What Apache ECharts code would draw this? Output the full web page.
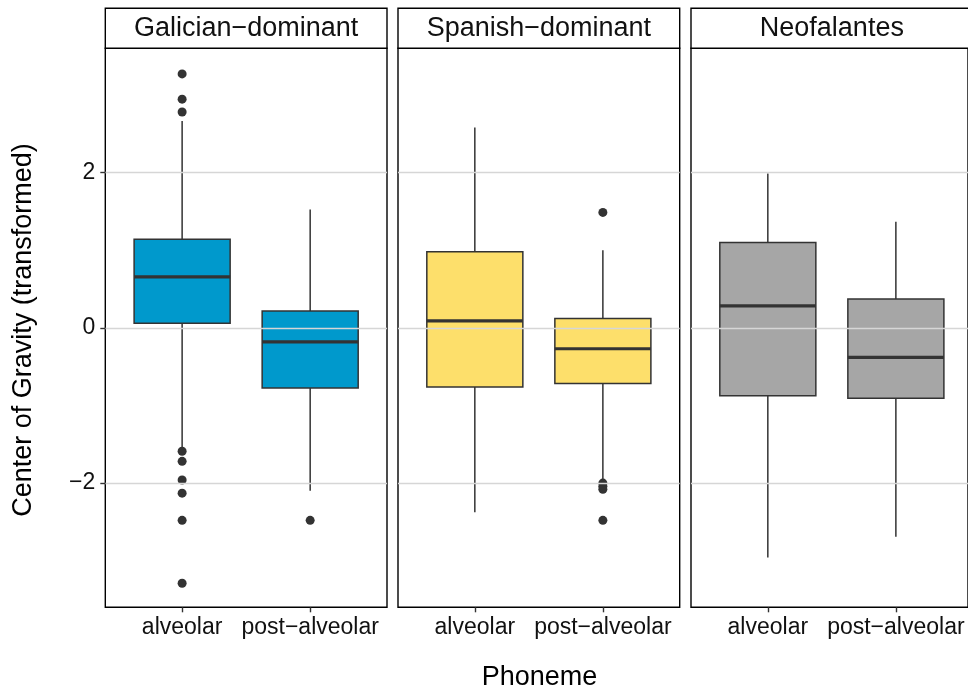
<!DOCTYPE html>
<html><head><meta charset="utf-8">
<script src="https://cdn.jsdelivr.net/npm/echarts@6/dist/echarts.min.js"></script>
<style>html,body{margin:0;padding:0;background:#fff}#c{width:968px;height:693px}</style>
</head><body><div id="c"></div>
<script>
// ---------- data ----------
const facets = ['Galician−dominant', 'Spanish−dominant', 'Neofalantes'];
const phonemes = ['alveolar', 'post−alveolar'];
const yTicks = [-2, 0, 2];
const yTickLabels = ['−2', '0', '2'];
// [lower whisker, Q1, median, Q3, upper whisker] per phoneme
const galicianStats = [[-1.55, 0.06, 0.657, 1.142, 2.665], [-2.10, -0.776, -0.18, 0.215, 1.524]];
const spanishStats = [[-2.377, -0.763, 0.088, 0.979, 2.58], [-1.97, -0.716, -0.27, 0.121, 1.0]];
const neofalantesStats = [[-2.96, -0.875, 0.283, 1.10, 1.988], [-2.69, -0.909, -0.381, 0.37, 1.365]];
// [phoneme index, value]
const galicianOutliers = [[0, 3.27], [0, 2.945], [0, 2.78], [0, -1.59], [0, -1.72], [0, -1.96], [0, -2.13], [0, -2.48], [0, -3.29], [1, -2.48]];
const spanishOutliers = [[1, 1.486], [1, -2.0], [1, -2.04], [1, -2.08], [1, -2.48]];
const neofalantesOutliers = [];

// ---------- style / layout ----------
const fillColors = ['#0099CC', '#FDDF6B', '#A6A6A6'];
const statsByFacet = [galicianStats, spanishStats, neofalantesStats];
const outliersByFacet = [galicianOutliers, spanishOutliers, neofalantesOutliers];
const FONT = "'Liberation Sans', Arial, Helvetica, sans-serif";
const panelLefts = [105.3, 398, 691];
const panelW = 281.7, panelTop = 48.3, panelH = 559;
const unit = panelW / 2.2;
const yMin = -3.6, yMax = 3.6;

function renderBox(fill) {
  return function (params, api) {
    const x = api.value(0);
    const lo = api.coord([x, api.value(1)]);
    const q1 = api.coord([x, api.value(2)]);
    const med = api.coord([x, api.value(3)]);
    const q3 = api.coord([x, api.value(4)]);
    const hi = api.coord([x, api.value(5)]);
    const bw = api.size([1, 0])[0] * 0.75;
    const cx = lo[0];
    const st = { stroke: '#333333', lineWidth: 1.5 };
    return {
      type: 'group', children: [
        { type: 'line', shape: { x1: cx, y1: q3[1], x2: cx, y2: hi[1] }, style: st },
        { type: 'line', shape: { x1: cx, y1: q1[1], x2: cx, y2: lo[1] }, style: st },
        { type: 'rect', shape: { x: cx - bw / 2, y: q3[1], width: bw, height: q1[1] - q3[1] }, style: { fill: fill, stroke: '#333333', lineWidth: 1.5 } },
        { type: 'line', shape: { x1: cx - bw / 2, y1: med[1], x2: cx + bw / 2, y2: med[1] }, style: { stroke: '#333333', lineWidth: 3.2 } }
      ]
    };
  };
}

const grid = [], xAxis = [], yAxis = [], series = [], graphic = [];
facets.forEach((name, i) => {
  const L = panelLefts[i];
  grid.push({ left: L, top: panelTop, width: panelW, height: panelH, show: true, borderColor: '#000', borderWidth: 1.4, backgroundColor: 'rgba(0,0,0,0)' });
  grid.push({ left: L + 0.1 * unit, top: panelTop, width: 2 * unit, height: panelH, show: false });
  xAxis.push({ gridIndex: 2 * i, type: 'value', show: false, min: 0, max: 1 });
  xAxis.push({
    gridIndex: 2 * i + 1, type: 'category', data: phonemes, position: 'bottom', z: 20,
    axisLine: { show: false, onZero: false },
    axisTick: { show: true, inside: false, alignWithLabel: true, length: 5, lineStyle: { color: '#333333', width: 1.4 } },
    axisLabel: { interval: 0, fontSize: 23, color: '#111', fontFamily: FONT, margin: 9 },
    splitLine: { show: false }
  });
  yAxis.push({
    gridIndex: 2 * i, type: 'value', min: yMin, max: yMax, minInterval: 2, maxInterval: 2, position: 'left', z: 20,
    axisLine: { show: false, onZero: false },
    axisTick: { show: i === 0, inside: false, length: 5, customValues: yTicks, lineStyle: { color: '#333333', width: 1.4 } },
    axisLabel: {
      show: i === 0, customValues: yTicks,
      fontSize: 23, color: '#111', fontFamily: FONT, margin: 10,
      formatter: v => { const k = yTicks.indexOf(Math.round(v * 1000) / 1000); return k >= 0 ? yTickLabels[k] : ''; }
    },
    splitLine: { show: true, lineStyle: { color: '#d6d6d6', width: 1.4 } }
  });
  yAxis.push({ gridIndex: 2 * i + 1, type: 'value', min: yMin, max: yMax, show: false, splitLine: { show: false } });

  series.push({
    type: 'custom', name: name, xAxisIndex: 2 * i + 1, yAxisIndex: 2 * i + 1,
    renderItem: renderBox(fillColors[i]),
    encode: { x: 0, y: [1, 2, 3, 4, 5] },
    data: statsByFacet[i].map((s, k) => [k].concat(s)),
    z: 3
  });
  series.push({
    type: 'scatter', xAxisIndex: 2 * i + 1, yAxisIndex: 2 * i + 1,
    data: outliersByFacet[i], symbolSize: 9, itemStyle: { color: '#333333', opacity: 1 }, z: 4
  });

  graphic.push({ type: 'rect', shape: { x: L, y: 8.3, width: panelW, height: 40 }, style: { fill: '#fff', stroke: '#000', lineWidth: 1.4 }, z: 10 });
  graphic.push({ type: 'text', x: L + panelW / 2, y: 29, style: { text: name, fill: '#111', fontSize: 27, fontFamily: FONT, align: 'center', verticalAlign: 'middle' }, z: 11 });
});

graphic.push({ type: 'text', x: 539.5, y: 678, style: { text: 'Phoneme', fill: '#000', fontSize: 27, fontFamily: FONT, align: 'center', verticalAlign: 'middle' } });
graphic.push({ type: 'text', x: 24, y: 330, rotation: Math.PI / 2, style: { text: 'Center of Gravity (transformed)', fill: '#000', fontSize: 27, fontFamily: FONT, align: 'center', verticalAlign: 'middle' } });

const chart = echarts.init(document.getElementById('c'), null, { renderer: 'canvas' });
chart.setOption({ animation: false, backgroundColor: '#fff', grid, xAxis, yAxis, series, graphic });
</script></body></html>
